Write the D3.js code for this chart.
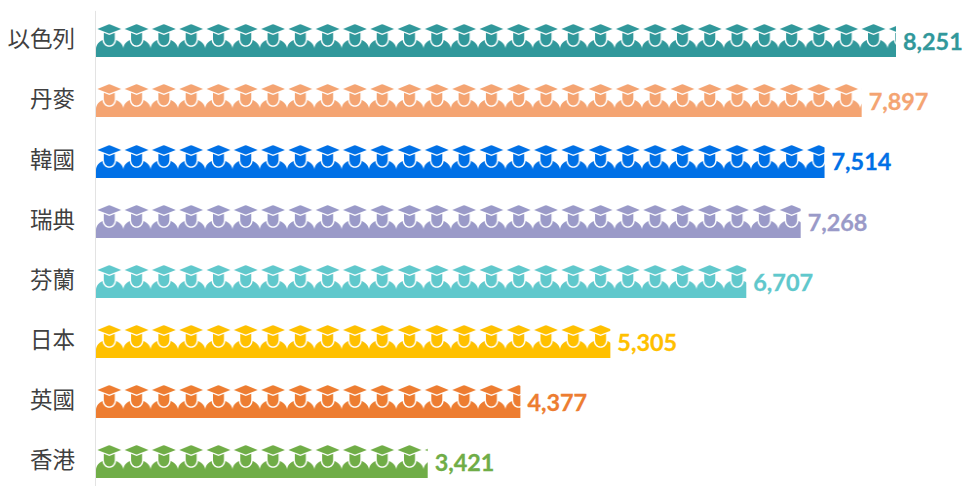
<!DOCTYPE html>
<html><head><meta charset="utf-8">
<style>html,body{margin:0;padding:0;background:#fff;overflow:hidden}svg{display:block}</style>
<script src="https://cdn.jsdelivr.net/npm/d3@7"></script></head>
<body><svg id="c" width="964" height="486"></svg>
<script>
const categories = ["以色列","丹麥","韓國","瑞典","芬蘭","日本","英國","香港"];
const values = [8251,7897,7514,7268,6707,5305,4377,3421];
const colors = ["#31989b","#f4a472","#0070e6","#9a9ac8","#60c8cc","#ffc000","#ed7d31","#70ad47"];
const iconUnit = 281.5;

const svg = d3.select("#c");
const x = d3.scaleLinear().domain([0,8251]).range([96,896]);
const y = d3.scaleBand().domain(categories).range([10.4,491.8]).paddingInner(0.45).paddingOuter(0.225);
const tileW = x(iconUnit)-x(0);
const barH = 33;
const barY = d => Math.round(y(d)+y.bandwidth()/2-barH/2+0.2);

const defs = svg.append("defs");
const pats = defs.selectAll("pattern").data(categories).join("pattern")
  .attr("id",(d,i)=>"p"+i)
  .attr("patternUnits","userSpaceOnUse")
  .attr("x",x(0)).attr("y",d=>barY(d))
  .attr("width",tileW).attr("height",barH);
pats.each(function(d,i){
  const g = d3.select(this).append("g").attr("fill",colors[i]);
  // graduate figure: cap, shoulders with a collar notch, face
  g.append("path").attr("d","M1.4,4.9 L12.3,0.5 Q13.3,0.2 14.3,0.5 L25.2,4.9 L14.3,9.2 Q13.3,9.6 12.3,9.2 Z");
  g.append("path").attr("d","M0,33 L0,25.5 C0,20.5 3,17.6 6.5,16 C6.8,19.8 9.5,22.8 13.3,22.8 C17.1,22.8 19.8,19.8 20.1,16 C23.6,17.6 27.4,20.5 27.4,25.5 L27.4,33 Z");
  g.append("path").attr("d","M7.8,8.8 L13.3,11 L18.8,8.8 L18.8,14.5 C18.8,18.4 16.5,21.5 13.3,21.5 C10.1,21.5 7.8,18.4 7.8,14.5 Z");
});

svg.append("g").selectAll("rect").data(categories).join("rect")
  .attr("x",x(0)).attr("y",d=>barY(d))
  .attr("width",(d,i)=>x(values[i])-x(0)).attr("height",barH)
  .attr("fill",(d,i)=>`url(#p${i})`);

const axis = svg.append("g").attr("transform","translate(95,0)")
  .call(d3.axisLeft(y).tickSize(0).tickPadding(20));
axis.select(".domain").attr("stroke","#e3e3e3").attr("stroke-width",1);
axis.selectAll("text")
  .attr("font-family","'Noto Sans CJK TC','Noto Sans CJK SC',sans-serif")
  .attr("font-size",22.5).attr("fill","#404040")
  .attr("dy","0.3em");

svg.append("g").selectAll("text").data(categories).join("text")
  .attr("x",(d,i)=>x(values[i])+7)
  .attr("y",d=>y(d)+y.bandwidth()/2+9.5)
  .attr("font-family","Lato,'Open Sans',sans-serif").attr("font-weight",700)
  .attr("font-size",23.4)
  .attr("stroke",(d,i)=>colors[i]).attr("stroke-width",0.3)
  .attr("fill",(d,i)=>colors[i])
  .text((d,i)=>d3.format(",")(values[i]));
</script></body></html>
